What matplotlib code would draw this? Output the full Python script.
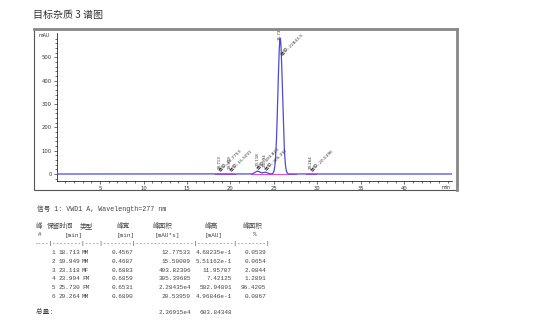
import numpy as np
import matplotlib
matplotlib.use('Agg')
import matplotlib.pyplot as plt
from matplotlib.patches import Rectangle

plt.rcParams['font.family'] = ['DejaVu Sans', 'Noto Sans CJK SC']

# 峰表数据
peak_no = [1, 2, 3, 4, 5, 6]
ret_time = [18.713, 19.949, 23.118, 23.994, 25.730, 29.264]
peak_type = ['MM', 'MM', 'MF', 'FM', 'FM', 'MM']
peak_width = [0.4567, 0.4687, 0.6883, 0.6859, 0.6531, 0.6890]
peak_area = [12.77533, 15.50009, 493.82306, 305.39685, 2.28435e4, 20.53959]
peak_height = [0.468235, 0.551162, 11.95707, 7.42125, 582.94891, 0.496846]
area_pct = [0.0539, 0.0654, 2.0844, 1.2891, 96.4205, 0.0867]
total_area = 2.36915e4
total_height = 603.84348

y_ticks = [0, 100, 200, 300, 400, 500]
x_ticks = [5, 10, 15, 20, 25, 30, 35, 40]

W, H = 554, 330
fig = plt.figure(figsize=(W / 100, H / 100), dpi=100)


def px(x0, y0, x1, y1):
    # 像素坐标 -> figure 坐标 [left, bottom, width, height]
    return [x0 / W, 1 - y1 / H, (x1 - x0) / W, (y1 - y0) / H]


fig.text(33 / W, 1 - 15 / H, '目标杂质 3 谱图', fontsize=7.2, color='#333333',
         va='center', family=['Noto Sans CJK SC', 'DejaVu Sans'])

# 外框
fig.patches.append(Rectangle((34 / W, 1 - 190 / H), 423 / W, 161 / H,
                             transform=fig.transFigure, fill=False,
                             edgecolor='#555555', lw=0.8))
fig.lines.append(plt.Line2D([34 / W, 457 / W], [1 - 29 / H, 1 - 29 / H],
                            transform=fig.transFigure, color='#888888', lw=2))
fig.lines.append(plt.Line2D([457 / W, 457 / W], [1 - 29 / H, 1 - 190 / H],
                            transform=fig.transFigure, color='#888888', lw=2))

ax = fig.add_axes(px(56.6, 33, 452, 181))
t = np.linspace(0, 45.5, 4000)
sig = np.zeros_like(t)
for rt, h, a in zip(ret_time, peak_height, peak_area):
    s = a / (h * 60 * np.sqrt(2 * np.pi))
    sig += h * np.exp(-0.5 * ((t - rt) / s) ** 2)

# 积分基线
for a0, a1 in [(18.2, 19.3), (19.4, 20.5), (22.4, 27.6), (28.7, 29.9)]:
    ax.plot([a0, a1], [0, 0], color='#e050e0', lw=0.8, zorder=2)
ax.plot(t, sig, color='#4b4bd6', lw=0.9, zorder=3)

rfs, afs = 2.9, 3.1
for i, (rt, h, a) in enumerate(zip(ret_time, peak_height, peak_area)):
    if h > 100:
        ax.text(rt, h - 10, f'{rt:.3f}', rotation=90, ha='center', va='bottom',
                fontsize=rfs, color='#333333', clip_on=False)
        ax.text(rt + 0.4, h - 80, f'面积: {a:.6g}', rotation=45, ha='left',
                va='bottom', rotation_mode='anchor', fontsize=afs, color='#333333')
    else:
        ax.text(rt, h + 22, f'{rt:.3f}', rotation=90, ha='center', va='bottom',
                fontsize=rfs, color='#333333')
        ax.text(rt + 0.3, h + 4, f'面积: {a:.6g}', rotation=45, ha='left',
                va='bottom', rotation_mode='anchor', fontsize=afs, color='#333333')

ax.set_xlim(0, 45.5)
ax.set_ylim(-30, 605)
ax.set_xticks(x_ticks)
ax.set_xticks(np.arange(1, 46, 1), minor=True)
ax.set_yticks(y_ticks)
ax.set_yticks(np.arange(-20, 600, 20), minor=True)
ax.tick_params(labelsize=3.8, length=2.5, width=0.5, pad=1, colors='#333333')
ax.tick_params(which='minor', length=1.5, width=0.4)
for side in ['top', 'right']:
    ax.spines[side].set_visible(False)
for side in ['left', 'bottom']:
    ax.spines[side].set_linewidth(0.5)
ax.text(-0.8, 595, 'mAU', ha='right', va='center', fontsize=3.4, color='#333333')
ax.text(45.3, -48, 'min', ha='right', va='top', fontsize=3.4, color='#333333')

# 峰表
mono = ['Liberation Mono', 'Noto Sans CJK SC']
cjk = ['Noto Sans CJK SC', 'Liberation Mono']
fs = 4.3
col = '#444444'


def txt(x, y, s, ha='left', family=mono, size=fs):
    fig.text(x / W, 1 - y / H, s, fontsize=size, family=family, ha=ha,
             va='center', color=col)


def fmt(v):
    if v >= 1e4 or v < 1:
        e = int(np.floor(np.log10(v)))
        return f'{v / 10 ** e:.5f}e{e}'
    return f'{v:.5f}'


txt(37, 209, '信号 1: VWD1 A, Wavelength=277 nm', size=4.8)
for x, s in [(36, '峰'), (47, '保留时间'), (80, '类型'), (117, '峰宽'),
             (153, '峰面积'), (205, '峰高'), (243, '峰面积')]:
    txt(x, 226, s, family=cjk, size=4.8)
for x, s in [(38, '#'), (65, '[min]'), (117, '[min]'), (155, '[mAU*s]'),
             (205, '[mAU]'), (253, '%')]:
    txt(x, 235, s)
dash = ['-'] * 65
for b in [4, 13, 18, 27, 44, 55, 64]:
    dash[b] = '|'
fig.text(34 / W, 1 - 244 / H, ''.join(dash), fontsize=fs, family=mono,
         va='center', color=col)

row_y = [253, 261.5, 270.3, 279, 287.7, 296.5]
for y, n, rt, tp, w, a, h, p in zip(row_y, peak_no, ret_time, peak_type,
                                     peak_width, peak_area, peak_height, area_pct):
    txt(55, y, str(n), ha='right')
    txt(80, y, f'{rt:.3f}', ha='right')
    txt(82, y, tp)
    txt(133, y, f'{w:.4f}', ha='right')
    txt(191, y, fmt(a), ha='right')
    txt(232, y, fmt(h), ha='right')
    txt(266, y, f'{p:.4f}', ha='right')

txt(36, 312, '总量 :', family=cjk, size=4.8)
txt(191, 312, fmt(total_area), ha='right')
txt(232, 312, f'{total_height:.5f}', ha='right')

fig.savefig('out.png', dpi=100)
